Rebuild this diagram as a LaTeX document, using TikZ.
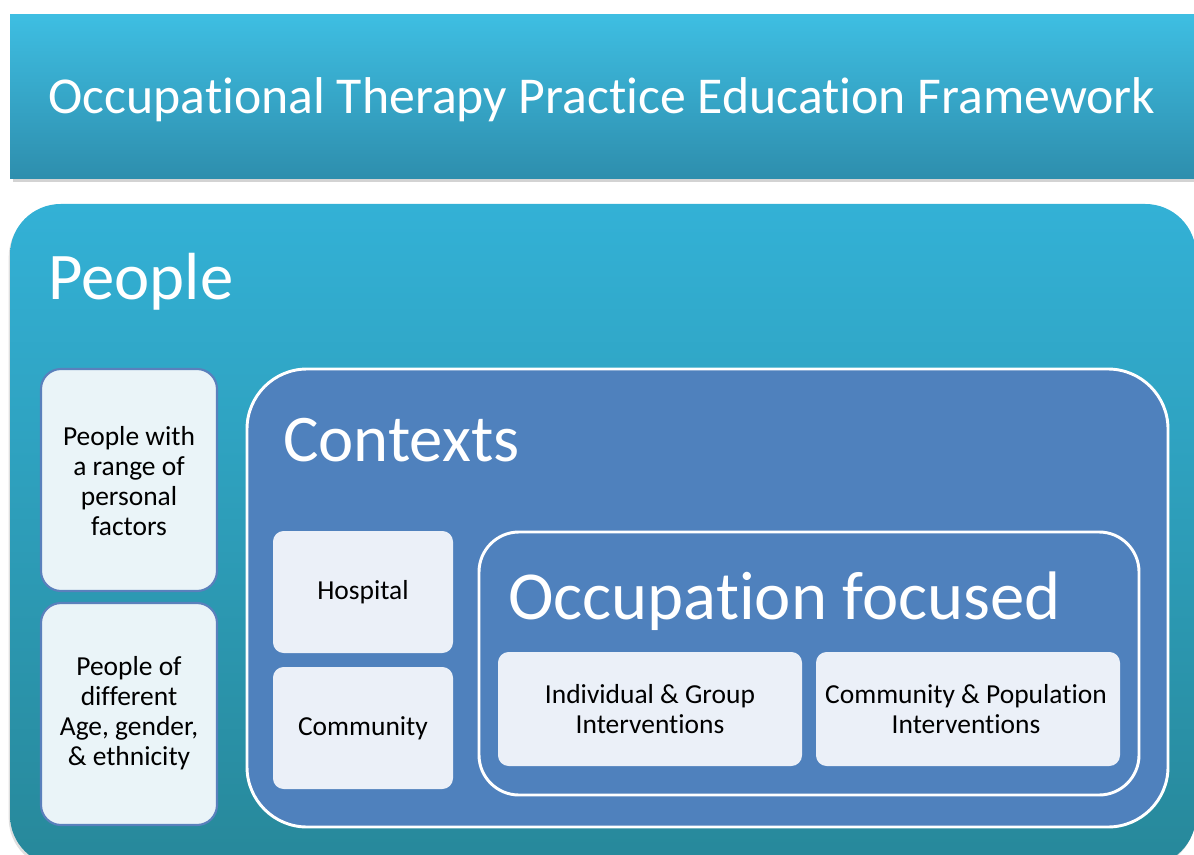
\documentclass[tikz,border=0pt]{standalone}
\usepackage{fontspec}
\setmainfont{Carlito}[Ligatures=NoCommon]
\usetikzlibrary{fit,shadows}
\definecolor{titletop}{HTML}{3EBEE2}
\definecolor{titlebot}{HTML}{2E8EAD}
\definecolor{peopletop}{HTML}{33B1D6}
\definecolor{peoplebot}{HTML}{27889A}
\definecolor{ctxblue}{HTML}{4F81BD}
\definecolor{leftfill}{HTML}{EAF4F8}
\definecolor{leftborder}{HTML}{5A80BC}
\definecolor{itemfill}{HTML}{EBF0F8}
\tikzset{
  frame/.style={inner sep=0pt, outer sep=0pt},
  leftbox/.style={frame, rounded corners=15pt, fill=leftfill, draw=leftborder, line width=1.6pt},
  itembox/.style={frame, rounded corners=8pt, fill=itemfill},
  boxtext/.style={inner sep=0pt, align=center, font=\fontsize{20.6}{22.5}\selectfont, text=black},
  whitebox/.style={frame, fill=ctxblue, draw=white, line width=2.2pt},
  heading/.style={anchor=base west, text=white, inner sep=0pt, font=\fontsize{50}{55}\selectfont},
}
\begin{document}
\begin{tikzpicture}[x=0.75pt,y=-0.75pt]
\useasboundingbox (0,0) rectangle (1194,855);
\clip (0,0) rectangle (1194,855);
% title banner
\node[frame, fit={(10,15)(1210,179)}, top color=titletop, bottom color=titlebot,
  drop shadow={shadow xshift=2pt, shadow yshift=-2.5pt, opacity=0.35}] (banner) {};
\node[text=white, font=\fontsize{38.8}{44}\selectfont, inner sep=0pt, anchor=base] (title)
  at (602,114) {Occupational Therapy Practice Education Framework};
% people panel
\node[frame, fit={(10,204)(1196,866)}, rounded corners=38pt, top color=peopletop, bottom color=peoplebot,
  drop shadow={shadow xshift=-1pt, shadow yshift=-2pt, opacity=0.25}] (people) {};
\node[heading] (peoplelbl) at (48,300) {People};
% left boxes
\node[leftbox, fit={(41,369)(217,591)}] (range) {};
\node[boxtext] (rangetxt) at (129,481) {People with\\a range of\\personal\\factors};
\node[leftbox, fit={(41,603)(217,825)}] (age) {};
\node[boxtext] (agetxt) at (129,713) {People of\\different\\Age, gender,\\\& ethnicity};
% contexts
\node[whitebox, fit={(247,369)(1168,827)}, rounded corners=45pt] (contexts) {};
\node[heading] (contextslbl) at (283,461) {Contexts};
\node[itembox, fit={(273,531)(453,653)}] (hospital) {};
\node[boxtext] (hospitaltxt) at (363,592) {Hospital};
\node[itembox, fit={(273,667)(453,789)}] (community) {};
\node[boxtext] (communitytxt) at (363,728) {Community};
% occupation focused
\node[whitebox, fit={(479,532)(1139,795)}, rounded corners=30pt] (occ) {};
\node[heading, font=\fontsize{51.5}{56}\selectfont] (occlbl) at (508,619) {Occupation focused};
\node[itembox, fit={(498,652)(802,766)}] (indiv) {};
\node[boxtext] (indivtxt) at (650,709) {Individual \& Group\\Interventions};
\node[itembox, fit={(816,652)(1120,766)}] (pop) {};
\node[boxtext] (poptxt) at (966,709) {Community \& Population\\Interventions};
\end{tikzpicture}
\end{document}
